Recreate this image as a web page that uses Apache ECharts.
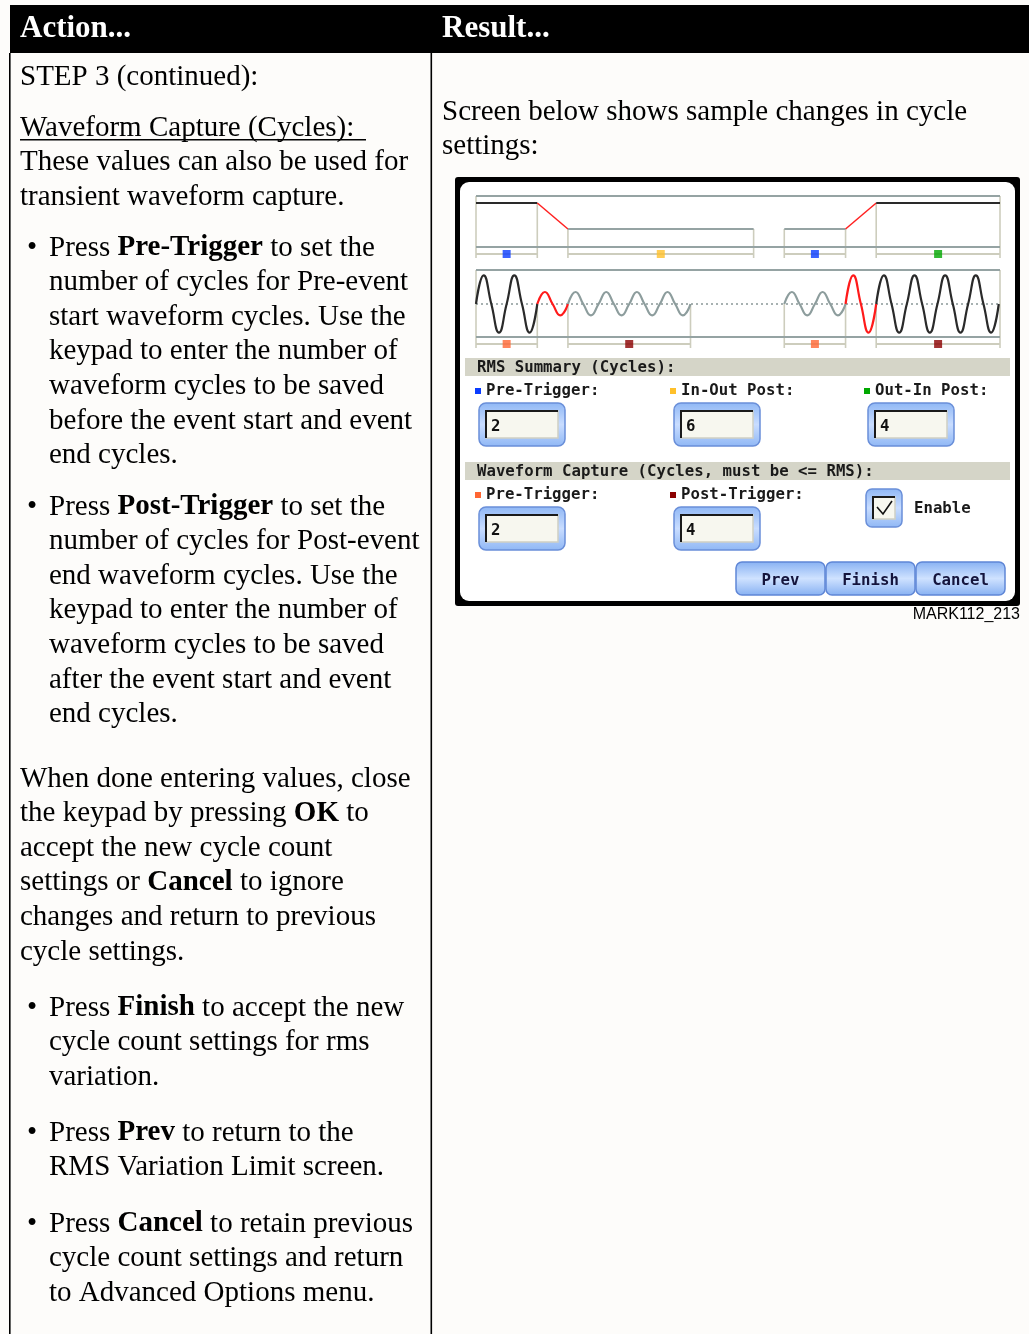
<!DOCTYPE html>
<html><head><meta charset="utf-8">
<script src="https://cdn.jsdelivr.net/npm/echarts@6/dist/echarts.min.js"></script>
<style>html,body{margin:0;padding:0;background:#fdfcfa;}#c{width:1029px;height:1334px;}</style>
</head><body><div id="c"></div>
<script>
// ---------- DATA ----------
// x in cycles, y in per-unit of nominal
const rmsBlackLeft  = [[0, 1.0], [2, 1.0]];
const rmsRedLeft    = [[2, 1.0], [3, 0.41]];
const rmsGrayLeft   = [[3, 0.41], [9.06, 0.41]];
const rmsGrayRight  = [[10.06, 0.41], [12.06, 0.41]];
const rmsRedRight   = [[12.06, 0.41], [13.06, 1.0]];
const rmsBlackRight = [[13.06, 1.0], [17.1, 1.0]];
const rmsEdges      = [0, 2, 3, 9.06, 10.06, 12.06, 13.06, 17.1];
const rmsEdgeTops   = [1.159, 1.0, 0.41, 0.41, 0.41, 0.41, 1.0, 1.159];
const rmsSpans      = [[0, 2], [3, 9.06], [10.06, 12.06], [13.06, 17.1]];
const rmsSpanColors = ['#0a3cff', '#ffc02a', '#0a3cff', '#00a800'];

// waveform half-cycle peaks (per unit), with start cycle
const wavePreLeftStart = 0,      wavePreLeftPeaks  = [1, -1, 1, -1];
const waveTrigLeftStart = 2,     waveTrigLeftPeaks = [0.42, -0.40];
const wavePostLeftStart = 3,     wavePostLeftPeaks = [0.42, -0.40, 0.42, -0.40, 0.42, -0.40, 0.42, -0.40];
const wavePreRightStart = 10.06, wavePreRightPeaks = [0.42, -0.40, 0.42, -0.40];
const waveTrigRightStart = 12.06,waveTrigRightPeaks= [1, -1];
const wavePostRightStart = 13.06,wavePostRightPeaks= [1, -1, 1, -1, 1, -1, 1, -1];
const wfEdges      = [0, 2, 3, 7, 10.06, 12.06, 13.06, 17.1];
const wfEdgeTops   = [1.19, 0, 0, 0, 0, 0, 0, 1.19];
const wfSpans      = [[0, 2], [3, 7], [10.06, 12.06], [13.06, 17.1]];
const wfSpanColors = ['#ff6633', '#8b0000', '#ff6633', '#8b0000'];

// form values
const rmsLabels = ['Pre-Trigger:', 'In-Out Post:', 'Out-In Post:'];
const rmsValues = ['2', '6', '4'];
const wfLabels  = ['Pre-Trigger:', 'Post-Trigger:'];
const wfValues  = ['2', '4'];
const buttons   = ['Prev', 'Finish', 'Cancel'];

// ---------- page text ----------
const leftBlocks = [
  {y: 77,   bullet: false, lines: ['STEP 3 (continued):']},
  {y: 128,  bullet: false, lines: ['_Waveform Capture (Cycles): ', 'These values can also be used for', 'transient waveform capture.']},
  {y: 248,  bullet: true,  lines: ['Press *Pre-Trigger* to set the', 'number of cycles for Pre-event', 'start waveform cycles. Use the', 'keypad to enter the number of', 'waveform cycles to be saved', 'before the event start and event', 'end cycles.']},
  {y: 507,  bullet: true,  lines: ['Press *Post-Trigger* to set the', 'number of cycles for Post-event', 'end waveform cycles. Use the', 'keypad to enter the number of', 'waveform cycles to be saved', 'after the event start and event', 'end cycles.']},
  {y: 779,  bullet: false, lines: ['When done entering values, close', 'the keypad by pressing *OK* to', 'accept the new cycle count', 'settings or *Cancel* to ignore', 'changes and return to previous', 'cycle settings.']},
  {y: 1008, bullet: true,  lines: ['Press *Finish* to accept the new', 'cycle count settings for rms', 'variation.']},
  {y: 1133, bullet: true,  lines: ['Press *Prev* to return to the', 'RMS Variation Limit screen.']},
  {y: 1224, bullet: true,  lines: ['Press *Cancel* to retain previous', 'cycle count settings and return', 'to Advanced Options menu.']}
];
const rightLines = ['Screen below shows sample changes in cycle', 'settings:'];

// ---------- helpers ----------
const SERIF = "'Liberation Serif','Times New Roman',serif";
const MONO = "'DejaVu Sans Mono',monospace";
const MF = 'bold 15.7px ' + MONO;
const LH = 34.6;
const G = [];
function grad(a, b) { return new echarts.graphic.LinearGradient(0, 0, 0, 1, [{offset: 0, color: a}, {offset: 0.5, color: b}, {offset: 1, color: a}]); }
function txt(x, y, t, font, fill, align) {
  G.push({type: 'text', x: x, y: y, z: 5, style: {text: t, font: font, fill: fill || '#000', textAlign: align || 'left', textVerticalAlign: 'middle', align: align || 'left', verticalAlign: 'middle'}});
}
function richLine(x, y, s) {
  const parts = s.split('*');
  let t = '';
  parts.forEach((p, i) => { if (p.length) t += '{' + (i % 2 ? 'b' : 'r') + '|' + p + '}'; });
  G.push({type: 'text', x: x, y: y, z: 5, style: {text: t, textVerticalAlign: 'middle', verticalAlign: 'middle', rich: {
    r: {font: '29px ' + SERIF, fill: '#000', color: '#000'},
    b: {font: 'bold 29px ' + SERIF, fill: '#000', color: '#000'}
  }}});
}
function rect(x, y, w, h, fill, extra) {
  G.push(Object.assign({type: 'rect', z: 1, shape: {x: x, y: y, width: w, height: h}, style: {fill: fill}}, extra || {}));
}

// ---------- page frame ----------
rect(10, 5, 1019, 48, '#000');
txt(20, 29, 'Action...', 'bold 31px ' + SERIF, '#fff');
txt(442, 29, 'Result...', 'bold 31px ' + SERIF, '#fff');
rect(9, 53, 1.6, 1281, '#000');
rect(430.5, 53, 1.6, 1281, '#000');

leftBlocks.forEach(b => {
  b.lines.forEach((l, i) => {
    const y = b.y + i * LH;
    const x = b.bullet ? 49 : 20;
    if (b.bullet && i === 0) txt(27, y, '\u2022', '29px ' + SERIF, '#000');
    if (l[0] === '_') {
      richLine(x, y, l.slice(1));
      rect(20, y + 11, 346, 1.6, '#000', {z: 5});
    } else richLine(x, y, l);
  });
});
rightLines.forEach((l, i) => richLine(442, 112 + i * LH, l));

// ---------- device screen ----------
rect(455, 177, 565, 429, '#000', {shape: {x: 455, y: 177, width: 565, height: 429, r: 3}});
rect(460, 182, 555, 419, '#fff', {shape: {x: 460, y: 182, width: 555, height: 419, r: 9}});

function band(y, t) {
  rect(465, y, 545, 18, '#d5d5c8', {z: 2});
  txt(477, y + 9.5, t, MF, '#1a1a1a');
}
band(358, 'RMS Summary (Cycles):');
band(462, 'Waveform Capture (Cycles, must be <= RMS):');

function label(x, y, t, c) {
  rect(x, y - 3, 6, 6, c, {z: 3});
  txt(x + 11, y, t, MF, '#1a1a1a');
}
function inputBox(x, y, w, h, v) {
  G.push({type: 'rect', z: 2, shape: {x: x, y: y, width: w, height: h, r: 7}, style: {fill: grad('#8fb7f5', '#c9ddff'), stroke: '#6a8fd9', lineWidth: 1.5}});
  const ix = x + 7, iy = y + 8, iw = w - 14, ih = h - 16;
  G.push({type: 'rect', z: 3, shape: {x: ix, y: iy, width: iw, height: ih}, style: {fill: '#f7f7ef', stroke: '#cfcfc4', lineWidth: 1.5}});
  G.push({type: 'polyline', z: 4, shape: {points: [[ix, iy + ih], [ix, iy], [ix + iw, iy]]}, style: {stroke: '#1a1a1a', lineWidth: 2, fill: null}});
  txt(ix + 5, iy + ih / 2 + 2.5, v, MF, '#111');
}
const col = [475, 670, 864];
rmsLabels.forEach((l, i) => { label(col[i], 391, l, rmsSpanColors[i === 0 ? 0 : (i === 1 ? 1 : 3)]); inputBox(col[i] + 4, 403, 86, 43, rmsValues[i]); });
wfLabels.forEach((l, i) => { label(col[i], 495, l, wfSpanColors[i]); inputBox(col[i] + 4, 507, 86, 43, wfValues[i]); });

// checkbox
G.push({type: 'rect', z: 2, shape: {x: 866, y: 489, width: 36, height: 38, r: 6}, style: {fill: grad('#8fb7f5', '#c9ddff'), stroke: '#6a8fd9', lineWidth: 1.5}});
G.push({type: 'rect', z: 3, shape: {x: 873, y: 497, width: 22, height: 22}, style: {fill: '#f7f7ef', stroke: '#cfcfc4', lineWidth: 1.5}});
G.push({type: 'polyline', z: 4, shape: {points: [[873, 519], [873, 497], [895, 497]]}, style: {stroke: '#1a1a1a', lineWidth: 2, fill: null}});
G.push({type: 'polyline', z: 4, shape: {points: [[877, 507], [883, 514], [892, 501]]}, style: {stroke: '#111', lineWidth: 1.6, fill: null}});
txt(914, 509, 'Enable', MF, '#1a1a1a');

// buttons
const bx = [736, 826, 916];
buttons.forEach((b, i) => {
  G.push({type: 'rect', z: 2, shape: {x: bx[i], y: 562, width: 89, height: 33, r: 6}, style: {fill: grad('#86b0f2', '#cfe2ff'), stroke: '#5f86d6', lineWidth: 1.5}});
  txt(bx[i] + 44.5, 581, b, MF, '#14143c', 'center');
});

txt(1020, 615, 'MARK112_213', '16px "Liberation Sans", Arial, sans-serif', '#000', 'right');

// ---------- series builders ----------
function wavePoints(start, peaks) {
  const pts = [[start, 0]];
  peaks.forEach((p, i) => { pts.push([start + i * 0.5 + 0.25, p]); pts.push([start + (i + 1) * 0.5, 0]); });
  return pts;
}
function lineSeries(gi, data, color, w, smooth, type) {
  return {type: 'line', xAxisIndex: gi, yAxisIndex: gi, data: data, symbol: 'none', smooth: smooth || false, z: 4,
    lineStyle: {color: color, width: w, type: type || 'solid'}, silent: true};
}
function segSeries(gi, segs, color, w) {
  return {type: 'custom', xAxisIndex: gi, yAxisIndex: gi, data: segs, z: 3, silent: true,
    encode: {x: [0, 2], y: [1, 3]},
    renderItem: function (p, api) {
      const a = api.coord([api.value(0), api.value(1)]);
      const b = api.coord([api.value(2), api.value(3)]);
      return {type: 'line', shape: {x1: a[0], y1: a[1], x2: b[0], y2: b[1]}, style: {stroke: color, lineWidth: w}};
    }};
}
function markerSeries(gi, spans, colors, y) {
  return {type: 'scatter', xAxisIndex: gi, yAxisIndex: gi, symbol: 'rect', symbolSize: 8, z: 6, silent: true,
    data: spans.map((s, i) => ({value: [(s[0] + s[1]) / 2, y], itemStyle: {color: colors[i]}}))};
}

const FRAME = '#95a3a3', BEIGE = '#cdcdbd';
const rmsVerticals = rmsEdges.map((x, i) => [x, rmsEdgeTops[i], x, -0.25]);
const rmsBrackets = rmsSpans.map(s => [s[0], -0.159, s[1], -0.159]);
const wfVerticals = wfEdges.map((x, i) => [x, wfEdgeTops[i], x, -1.54]);
const wfBrackets = wfSpans.map(s => [s[0], -1.40, s[1], -1.40]);

const series = [
  segSeries(0, rmsVerticals, BEIGE, 1.6),
  segSeries(0, rmsBrackets, BEIGE, 2),
  segSeries(0, [[0, 1.159, 17.1, 1.159], [0, 0, 17.1, 0]], FRAME, 2),
  lineSeries(0, rmsBlackLeft, '#2a2a2a', 2),
  lineSeries(0, rmsRedLeft, '#ff2020', 1.5),
  lineSeries(0, rmsGrayLeft, FRAME, 2),
  lineSeries(0, rmsGrayRight, FRAME, 2),
  lineSeries(0, rmsRedRight, '#ff2020', 1.5),
  lineSeries(0, rmsBlackRight, '#2a2a2a', 2),
  markerSeries(0, rmsSpans, rmsSpanColors, -0.159),

  segSeries(1, wfVerticals, BEIGE, 1.6),
  segSeries(1, wfBrackets, BEIGE, 2),
  segSeries(1, [[0, 1.19, 17.1, 1.19], [0, -1.155, 17.1, -1.155]], FRAME, 2),
  lineSeries(1, [[0, 0], [17.1, 0]], '#8a9898', 1.5, false, [2, 3]),
  lineSeries(1, wavePoints(wavePreLeftStart, wavePreLeftPeaks), '#2a2a2a', 2.2, true),
  lineSeries(1, wavePoints(waveTrigLeftStart, waveTrigLeftPeaks), '#ff1a1a', 2.2, true),
  lineSeries(1, wavePoints(wavePostLeftStart, wavePostLeftPeaks), '#8d9d9d', 2.2, true),
  lineSeries(1, wavePoints(wavePreRightStart, wavePreRightPeaks), '#8d9d9d', 2.2, true),
  lineSeries(1, wavePoints(waveTrigRightStart, waveTrigRightPeaks), '#ff1a1a', 2.2, true),
  lineSeries(1, wavePoints(wavePostRightStart, wavePostRightPeaks), '#2a2a2a', 2.2, true),
  markerSeries(1, wfSpans, wfSpanColors, -1.40)
];

const chart = echarts.init(document.getElementById('c'), null, {renderer: 'canvas'});
chart.setOption({
  animation: false,
  backgroundColor: '#fdfcfa',
  grid: [
    {left: 476, width: 524, top: 190, height: 72},
    {left: 476, width: 524, top: 266, height: 86}
  ],
  xAxis: [
    {type: 'value', gridIndex: 0, min: 0, max: 17.1, show: false},
    {type: 'value', gridIndex: 1, min: 0, max: 17.1, show: false}
  ],
  yAxis: [
    {type: 'value', gridIndex: 0, min: -0.341, max: 1.295, show: false},
    {type: 'value', gridIndex: 1, min: -1.68, max: 1.33, show: false}
  ],
  graphic: {elements: G},
  series: series
});
</script></body></html>
